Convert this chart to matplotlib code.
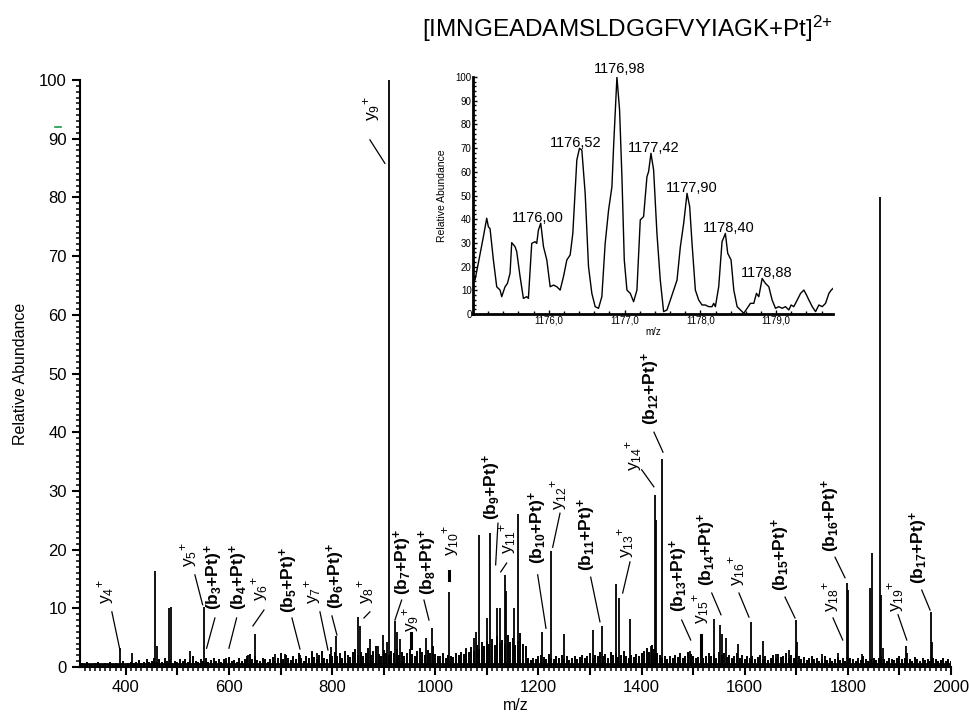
import numpy as np
import matplotlib.pyplot as plt
from matplotlib.lines import Line2D
from matplotlib.ticker import MultipleLocator, FuncFormatter

plt.rcParams['font.family'] = ['Liberation Sans', 'DejaVu Sans']
plt.rcParams['mathtext.fontset'] = 'custom'
plt.rcParams['mathtext.rm'] = 'Liberation Sans'
plt.rcParams['mathtext.bf'] = 'Liberation Sans:bold'
plt.rcParams['mathtext.it'] = 'Liberation Sans:italic'

title = r'[IMNGEADAMSLDGGFVYIAGK+Pt]$\mathregular{^{2{+}}}$'

# main MS/MS peaks (m/z, relative abundance)
peak_mz = [388, 411, 457, 461, 484, 487, 524, 551, 595, 636, 650, 690, 708, 737,
           760, 770, 797, 807, 850, 854, 874, 888, 899, 906, 910.5, 921.5, 925,
           932, 982, 994, 1026, 1059, 1075, 1079, 1084.5, 1099.5, 1106, 1120,
           1125, 1135, 1137, 1152, 1161, 1206, 1224, 1249, 1306, 1322.5, 1350,
           1356, 1377, 1419, 1426, 1428, 1440, 1494, 1541, 1553, 1556, 1564,
           1587, 1612, 1636, 1660, 1686, 1699.5, 1702, 1749, 1780, 1797.5, 1800,
           1827, 1843, 1846, 1862.5, 1865, 1868, 1912, 1914, 1961, 1963, 1980]
peak_int = [3.2, 2.4, 16.3, 3.5, 10.0, 10.2, 2.8, 10.2, 1.5, 2.0, 5.6, 2.2, 2.2, 2.0,
            2.8, 2.4, 3.4, 5.2, 8.6, 7.0, 4.8, 3.6, 5.4, 4.2, 100, 7.8, 6.0,
            4.7, 5.0, 6.7, 12.8, 3.2, 5.0, 6.0, 22.5, 8.4, 22.8, 10.0,
            10.0, 15.6, 13.0, 10.0, 26.0, 6.0, 19.8, 5.6, 6.3, 7.0, 14.2,
            11.8, 8.2, 3.6, 29.3, 25.0, 35.5, 2.8, 8.1, 7.2, 5.6, 4.9,
            4.0, 7.7, 4.4, 2.2, 2.9, 8.0, 4.2, 2.2, 2.4, 14.3, 13.2,
            2.2, 13.5, 19.4, 80, 12.2, 3.2, 3.6, 2.4, 9.3, 4.2, 1.2]

# baseline grass, one value every 5 m/z from 310 to 2000
noise_mz = np.arange(310, 2001, 5)
noise_int = [
    0.4, 0.6, 0.3, 0.8, 0.5, 0.4, 0.7, 0.9, 0.5, 0.3, 0.6, 0.4, 0.8, 0.5, 0.7, 0.4, 0.6, 1.0, 0.5, 0.7,
    0.9, 0.6, 0.8, 1.2, 0.7, 0.9, 1.4, 0.8, 1.1, 1.6, 0.9, 1.3, 0.8, 1.5, 1.0, 1.2, 0.7, 1.1, 0.9, 1.3,
    1.0, 1.4, 0.9, 1.2, 1.8, 1.1, 0.8, 1.3, 1.0, 1.5, 0.9, 1.2, 1.6, 1.0, 1.3, 0.8, 1.4, 1.1, 1.7, 1.0,
    1.2, 0.9, 1.5, 1.1, 1.3, 1.8, 2.2, 1.4, 1.9, 1.2, 1.0, 1.6, 1.3, 0.9, 1.4, 1.7, 1.1, 1.5, 2.4, 1.3,
    2.0, 1.5, 1.2, 1.8, 1.4, 2.3, 1.6, 1.1, 1.9, 1.5, 2.6, 1.7, 1.3, 2.1, 2.8, 1.6, 1.4, 2.2, 1.8, 2.5,
    1.9, 2.4, 1.6, 2.8, 2.1, 1.7, 2.5, 3.0, 2.0, 2.6, 1.8, 2.3, 3.2, 2.0, 2.7, 3.6, 2.2, 1.9, 2.9, 2.4,
    2.1, 2.8, 2.3, 3.1, 2.0, 2.6, 1.8, 2.4, 3.0, 2.2, 1.9, 2.7, 3.3, 2.5, 2.1, 2.9, 2.4, 3.5, 2.2, 1.9,
    1.8, 2.3, 1.6, 2.1, 1.9, 1.7, 2.4, 2.0, 2.6, 2.2, 3.0, 2.5, 3.4, 2.8, 3.8, 3.1, 4.2, 3.6, 4.5, 3.9,
    4.8, 3.7, 5.2, 4.1, 4.6, 3.9, 5.5, 4.3, 4.9, 3.8, 4.4, 5.8, 4.0, 3.5, 1.6, 1.2, 1.5, 1.3, 1.8, 2.0,
    1.7, 1.4, 2.2, 1.6, 1.3, 1.9, 1.5, 2.1, 1.4, 1.8, 1.2, 1.6, 1.9, 1.3, 1.7, 2.0, 1.5, 1.8, 2.3, 1.6,
    2.1, 1.8, 2.5, 1.9, 2.2, 1.6, 2.6, 2.0, 2.4, 1.7, 2.1, 2.8, 1.9, 1.5, 2.0, 1.7, 2.2, 1.8, 2.4, 2.7,
    3.2, 2.6, 3.8, 3.0, 2.4, 2.0, 1.6, 1.9, 1.4, 1.8, 1.5, 2.1, 1.7, 2.3, 1.6, 1.9, 2.6, 2.2, 1.8, 1.5,
    1.7, 2.0, 1.5, 1.9, 2.4, 1.8, 2.2, 1.6, 2.6, 2.0, 2.3, 1.7, 2.1, 1.5, 1.9, 2.4, 1.6, 2.0, 1.4, 1.8,
    1.5, 1.9, 1.3, 1.7, 2.1, 1.4, 1.8, 1.2, 1.6, 2.0, 1.5, 2.2, 1.7, 1.9, 2.4, 1.6, 2.0, 1.5, 2.3, 1.8,
    1.4, 1.7, 1.2, 1.5, 1.9, 1.3, 1.6, 1.1, 1.4, 1.8, 1.2, 1.5, 1.0, 1.3, 1.7, 1.2, 1.5, 1.1, 1.4, 1.6,
    1.3, 1.1, 1.5, 1.2, 1.8, 1.4, 1.0, 1.3, 1.6, 1.2, 1.5, 1.9, 1.3, 1.1, 1.6, 1.4, 1.2, 1.5, 1.8, 1.3,
    1.6, 1.2, 1.4, 1.1, 1.7, 1.3, 1.0, 1.5, 1.2, 1.4, 1.1, 1.6, 1.3, 1.0, 1.2, 1.5, 1.1, 1.3, 1.0]

# isotope envelope of the precursor (inset)
iso_mz = [1175.004, 1175.026, 1175.070, 1175.137, 1175.181, 1175.203, 1175.225, 1175.269,
          1175.313, 1175.357, 1175.379, 1175.423, 1175.454, 1175.489, 1175.511, 1175.555,
          1175.577, 1175.621, 1175.665, 1175.709, 1175.731, 1175.775, 1175.819, 1175.841,
          1175.863, 1175.894, 1175.930, 1175.974, 1176.018, 1176.062, 1176.106, 1176.150,
          1176.194, 1176.238, 1176.282, 1176.317, 1176.370, 1176.405, 1176.436, 1176.480,
          1176.524, 1176.568, 1176.612, 1176.656, 1176.700, 1176.744, 1176.789, 1176.833,
          1176.855, 1176.899, 1176.934, 1176.965, 1176.996, 1177.031, 1177.075, 1177.119,
          1177.163, 1177.207, 1177.251, 1177.295, 1177.317, 1177.348, 1177.383, 1177.427,
          1177.471, 1177.515, 1177.559, 1177.604, 1177.648, 1177.692, 1177.736, 1177.780,
          1177.824, 1177.859, 1177.890, 1177.934, 1177.978, 1178.022, 1178.066, 1178.110,
          1178.154, 1178.176, 1178.198, 1178.242, 1178.286, 1178.330, 1178.361, 1178.405,
          1178.441, 1178.485, 1178.529, 1178.573, 1178.617, 1178.661, 1178.705, 1178.740,
          1178.771, 1178.815, 1178.859, 1178.903, 1178.947, 1178.991, 1179.035, 1179.079,
          1179.123, 1179.167, 1179.198, 1179.233, 1179.278, 1179.322, 1179.366, 1179.401,
          1179.432, 1179.476, 1179.520, 1179.564, 1179.608, 1179.652, 1179.696, 1179.727,
          1179.750]
iso_int = [15.8, 14.3, 21.4, 32.6, 40.4, 36.8, 36.0, 22.8,
           11.5, 10.1, 7.3, 11.5, 12.9, 17.2, 30.1, 28.4,
           26.3, 15.8, 6.6, 7.3, 6.6, 29.8, 30.5, 29.8,
           35.4, 38.3, 28.4, 22.8, 11.5, 12.2, 11.5, 10.1,
           15.8, 22.8, 24.9, 34.0, 65.0, 69.9, 69.2, 50.9,
           20.0, 8.7, 3.1, 2.4, 7.3, 29.8, 43.9, 53.7,
           70.6, 100.0, 86.1, 57.9, 22.8, 10.1, 8.7, 5.2,
           10.1, 39.7, 41.1, 57.9, 60.1, 67.8, 60.8, 34.0,
           14.3, 1.0, 1.7, 5.9, 10.1, 14.3, 28.4, 38.3,
           50.9, 45.3, 29.8, 10.1, 5.9, 3.8, 3.8, 3.1,
           3.1, 4.5, 3.1, 11.5, 30.5, 34.0, 25.6, 22.8,
           10.1, 3.1, 1.7, 0.3, 2.4, 4.5, 4.5, 8.7,
           7.3, 15.0, 12.9, 11.5, 5.9, 2.4, 3.1, 2.4,
           3.1, 1.7, 3.8, 3.1, 5.9, 8.7, 10.1, 8.0,
           5.9, 3.1, 1.0, 3.8, 3.1, 4.5, 8.7, 10.1,
           10.8]
iso_labels = ['1176,00', '1176,52', '1176,98', '1177,42', '1177,90', '1178,40', '1178,88']
iso_label_x = [1175.85, 1176.35, 1176.93, 1177.38, 1177.88, 1178.38, 1178.87]
iso_label_y = [40.5, 72.2, 103.4, 70.0, 53.2, 36.3, 17.3]


def y_ion(n):
    return r'$\mathregular{y_{%s}{}^{+}}$' % n


def b_ion(n):
    return r'$\mathbf{(b_{%s}{+}Pt)^{+}}$' % n


# fragment labels: text, text x, text y, leader (x0, y0, x1, y1), thick leader
ions = [
    (y_ion(4), 361.2, 12.9, (372.8, 9.4, 388.4, 2.9), False),
    (y_ion(5), 522.2, 19.1, (533.8, 15.7, 548.8, 10.6), False),
    (b_ion(3), 570.7, 15.3, (572.6, 8.35, 556.5, 3.2), False),
    (b_ion(4), 619.2, 15.3, (614.7, 8.35, 599.8, 3.2), False),
    (y_ion(6), 659.9, 13.3, (667.7, 9.7, 646.3, 7.0), False),
    (b_ion(5), 716.1, 14.8, (722.0, 8.35, 737.5, 3.07), False),
    (y_ion(7), 762.6, 12.8, (776.3, 9.4, 791.8, 2.9), False),
    (b_ion(6), 806.4, 15.5, (799.5, 8.7, 809.2, 5.45), False),
    (y_ion(8), 865.5, 12.9, (873.2, 9.4, 861.6, 8.35), False),
    (y_ion(9), 877.1, 95.2, (873.2, 89.8, 902.3, 85.8), False),
    (b_ion(7), 937.2, 17.9, (934.7, 11.4, 921.7, 8.0), False),
    (y_ion(9), 951.8, 8.0, (952.2, 5.8, 952.2, 3.2), True),
    (b_ion(8), 985.7, 17.9, (978.0, 11.4, 987.7, 8.0), False),
    (y_ion(10), 1029.5, 21.6, (1026.5, 16.35, 1026.5, 14.8), True),
    (b_ion(9), 1109.9, 30.7, (1121.5, 24.5, 1117.0, 17.4), False),
    (y_ion(11), 1140.9, 22.0, (1138.4, 17.7, 1126.8, 16.2), False),
    (b_ion(10), 1199.0, 23.7, (1198.5, 15.7, 1214.6, 6.6), False),
    (y_ion(12), 1238.0, 29.5, (1241.8, 26.2, 1227.6, 20.4), False),
    (b_ion(11), 1294.1, 22.5, (1301.3, 15.3, 1319.3, 7.7), False),
    (y_ion(13), 1369.6, 21.3, (1377.5, 17.9, 1363.3, 12.6), False),
    (y_ion(14), 1385.1, 36.1, (1400.2, 33.6, 1423.8, 30.7), False),
    (b_ion(12), 1418.2, 47.4, (1424.0, 40.0, 1441.5, 36.6), False),
    (b_ion(13), 1472.5, 15.5, (1477.8, 8.0, 1495.2, 4.6), False),
    (y_ion(15), 1515.2, 10.0, (1514.6, 5.5, 1514.6, 1.8), True),
    (b_ion(14), 1526.8, 19.9, (1536.0, 12.6, 1554.0, 8.9), False),
    (y_ion(16), 1584.9, 16.5, (1588.8, 12.6, 1608.2, 8.5), False),
    (b_ion(15), 1670.3, 19.1, (1678.1, 11.9, 1697.5, 8.35), False),
    (y_ion(18), 1765.4, 12.1, (1771.2, 8.35, 1790.0, 4.6), False),
    (b_ion(16), 1767.3, 25.7, (1775.1, 18.7, 1794.5, 15.2), False),
    (y_ion(19), 1891.5, 12.1, (1897.3, 8.9, 1914.2, 4.6), False),
    (b_ion(17), 1938.0, 20.4, (1943.3, 13.1, 1959.4, 9.7), False),
]

fig = plt.figure(figsize=(9.69, 7.2), dpi=100)
ax = fig.add_axes([80 / 969, 53 / 720, 871 / 969, 587 / 720])

ax.axhline(0.5, color='black', lw=2.0)
ax.vlines(noise_mz, 0, noise_int, color='black', lw=1.4)
ax.vlines(peak_mz, 0, peak_int, color='black', lw=1.3)

for txt, tx, ty, (x0, y0, x1, y1), thick in ions:
    ax.text(tx, ty, txt, rotation=90, ha='center', va='center', fontsize=12.5)
    ax.plot([x0, x1], [y0, y1], color='black', lw=2.2 if thick else 0.9)

ax.set_xlim(311, 2000)
ax.set_ylim(0, 100)
ax.spines['top'].set_visible(False)
ax.spines['right'].set_visible(False)
ax.spines['left'].set_linewidth(1.5)
ax.spines['bottom'].set_linewidth(1.5)
ax.xaxis.set_major_locator(MultipleLocator(100))
ax.xaxis.set_minor_locator(MultipleLocator(10))
ax.xaxis.set_major_formatter(FuncFormatter(lambda v, p: '%d' % v if v % 200 == 0 else ''))
ax.yaxis.set_major_locator(MultipleLocator(10))
ax.yaxis.set_minor_locator(MultipleLocator(1))
ax.tick_params(which='major', length=6, width=1.5, labelsize=12)
ax.tick_params(which='minor', length=3, width=1.1)
ax.set_xlabel('m/z', fontsize=11.5, labelpad=2)
ax.set_ylabel('Relative Abundance', fontsize=11.5, labelpad=8)

fig.text(422 / 969, 1 - 37 / 720, title, fontsize=17.5, ha='left', va='baseline')

# small green mark left of the y axis
fig.add_artist(Line2D([55 / 969, 61 / 969], [1 - 127 / 720, 1 - 127 / 720], color='#1a9a50', lw=1.2))

# inset with the precursor isotope pattern
ins = fig.add_axes([473 / 969, 406 / 720, 360 / 969, 237 / 720])
ins.plot(iso_mz, iso_int, color='black', lw=1.0)
for lab, lx, ly in zip(iso_labels, iso_label_x, iso_label_y):
    ins.text(lx, ly, lab, ha='center', va='center', fontsize=10.5)
ins.set_xlim(1175.0, 1179.75)
ins.set_ylim(0, 100)
ins.spines['top'].set_visible(False)
ins.spines['right'].set_visible(False)
ins.spines['left'].set_linewidth(2)
ins.spines['bottom'].set_linewidth(2)
ins.set_xticks([1176, 1177, 1178, 1179])
ins.set_xticklabels(['1176,0', '1177,0', '1178,0', '1179,0'])
ins.xaxis.set_minor_locator(MultipleLocator(0.2))
ins.yaxis.set_major_locator(MultipleLocator(10))
ins.yaxis.set_minor_locator(MultipleLocator(2))
ins.tick_params(which='major', length=3, width=1, labelsize=7, pad=1, direction='in')
ins.tick_params(which='minor', length=2, width=1, direction='in')
ins.set_xlabel('m/z', fontsize=7, labelpad=1)
ins.set_ylabel('Relative Abundance', fontsize=7.5, labelpad=6)
ins.patch.set_alpha(0)

fig.savefig('out.png', dpi=100)
